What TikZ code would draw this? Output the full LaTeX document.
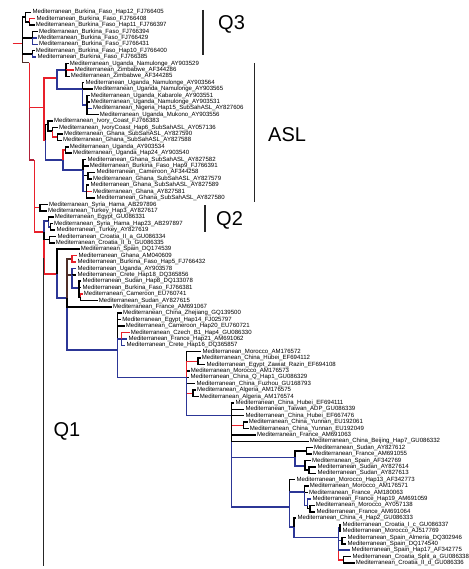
\documentclass[tikz,border=0pt]{standalone}
\usepackage{fontspec}
\setmainfont{Liberation Sans}
\usepackage{tikz}
\usetikzlibrary{positioning}
\definecolor{brRed}{RGB}{232,32,42}
\definecolor{brBlue}{RGB}{44,54,150}
\definecolor{brCrim}{RGB}{176,32,56}
\definecolor{brBrown}{RGB}{78,46,40}
\newcommand{\med}{Mediterranean\_}

\begin{document}
\begin{tikzpicture}[
        x=1pt, y=-1pt,
        branch/.style   = {line width=1.45pt},
        blackbr/.style  = {branch, draw=black},
        redbr/.style    = {branch, draw=brRed},
        bluebr/.style   = {branch, draw=brBlue},
        crimbr/.style   = {branch, draw=brCrim},
        brownbr/.style  = {branch, draw=brBrown},
        tip/.style      = {anchor=west, inner xsep=1.2pt, inner ysep=0pt, text height=4.5pt, text depth=1.3pt, font=\fontsize{6.05}{7}\selectfont},
        cladebar/.style = {line width=1.3pt, draw=black!85},
        cladelab/.style = {anchor=base west, inner sep=0pt, font=\fontsize{20}{24}\selectfont},
    ]
        \useasboundingbox (0,0) rectangle (468,569);

        \node[tip] (t1)  at (31.2,12.3)  {\med Burkina\_Faso\_Hap12\_FJ766405};
        \node[tip] (t2)  at (35.2,18.7)  {\med Burkina\_Faso\_FJ766408};
        \node[tip] (t3)  at (34.5,25.1)  {\med Burkina\_Faso\_Hap11\_FJ766397};
        \node[tip] (t4)  at (37.8,31.5)  {\med Burkina\_Faso\_FJ766394};
        \node[tip] (t5)  at (36.8,37.9)  {\med Burkina\_Faso\_FJ766429};
        \node[tip] (t6)  at (37.8,44.3)  {\med Burkina\_Faso\_FJ766431};
        \node[tip] (t7)  at (34.5,50.7)  {\med Burkina\_Faso\_Hap10\_FJ766400};
        \node[tip] (t8)  at (36.2,57.1)  {\med Burkina\_Faso\_FJ766385};
        \node[tip] (t9)  at (68.5,63.5)  {\med Uganda\_Namulonge\_AY903529};
        \node[tip] (t10) at (73.5,69.9)  {\med Zimbabwe\_AF344286};
        \node[tip] (t11) at (69.5,76.3)  {\med Zimbabwe\_AF344285};
        \node[tip] (t12) at (84.2,82.7)  {\med Uganda\_Namulonge\_AY903564};
        \node[tip] (t13) at (92.8,89.1)  {\med Uganda\_Namulonge\_AY903565};
        \node[tip] (t14) at (89.5,95.5)  {\med Uganda\_Kabarole\_AY903551};
        \node[tip] (t15) at (89.5,101.9) {\med Uganda\_Namulonge\_AY903531};
        \node[tip] (t16) at (91.8,108.3) {\med Nigeria\_Hap15\_SubSahASL\_AY827606};
        \node[tip] (t17) at (98.5,114.7) {\med Uganda\_Mukono\_AY903556};
        \node[tip] (t18) at (52.8,121.2) {\med Ivory\_Coast\_FJ766383};
        \node[tip] (t19) at (57.8,127.6) {\med IvoryCoast\_Hap6\_SubSahASL\_AY057136};
        \node[tip] (t20) at (62.8,134.0) {\med Ghana\_SubSahASL\_AY827590};
        \node[tip] (t21) at (61.8,140.4) {\med Ghana\_SubSahASL\_AY827588};
        \node[tip] (t22) at (68.5,146.8) {\med Uganda\_AY903534};
        \node[tip] (t23) at (71.8,153.2) {\med Uganda\_Hap24\_AY903540};
        \node[tip] (t24) at (86.2,159.6) {\med Ghana\_SubSahASL\_AY827582};
        \node[tip] (t25) at (88.5,166.0) {\med Burkina\_Faso\_Hap9\_FJ766391};
        \node[tip] (t26) at (95.2,172.4) {\med Cameroon\_AF344258};
        \node[tip] (t27) at (91.8,178.8) {\med Ghana\_SubSahASL\_AY827579};
        \node[tip] (t28) at (89.2,185.2) {\med Ghana\_SubSahASL\_AY827589};
        \node[tip] (t29) at (91.8,191.6) {\med Ghana\_AY827581};
        \node[tip] (t30) at (95.2,198.0) {\med Ghana\_SubSahASL\_AY827580};
        \node[tip] (t31) at (47.8,204.4) {\med Syria\_Hama\_AB297896};
        \node[tip] (t32) at (46.8,210.8) {\med Turkey\_Hap3\_AY827617};
        \node[tip] (t33) at (53.5,217.2) {\med Egypt\_GU086331};
        \node[tip] (t34) at (52.8,223.6) {\med Syria\_Hama\_Hap23\_AB297897};
        \node[tip] (t35) at (55.2,230.0) {\med Turkey\_AY827619};
        \node[tip] (t36) at (56.2,236.4) {\med Croatia\_II\_a\_GU086334};
        \node[tip] (t37) at (54.5,242.8) {\med Croatia\_II\_b\_GU086335};
        \node[tip] (t38) at (79.5,249.2) {\med Spain\_DQ174539};
        \node[tip] (t39) at (77.2,255.6) {\med Ghana\_AM040609};
        \node[tip] (t40) at (76.2,262.0) {\med Burkina\_Faso\_Hap5\_FJ766432};
        \node[tip] (t41) at (76.2,268.4) {\med Uganda\_AY903578};
        \node[tip] (t42) at (76.2,274.8) {\med Crete\_Hap18\_DQ365856};
        \node[tip] (t43) at (81.2,281.2) {\med Sudan\_Hap8\_DQ133078};
        \node[tip] (t44) at (81.2,287.6) {\med Burkina\_Faso\_FJ766381};
        \node[tip] (t45) at (82.5,294.0) {\med Cameroon\_EU760741};
        \node[tip] (t46) at (97.5,300.4) {\med Sudan\_AY827615};
        \node[tip] (t47) at (111.8,306.8) {\med France\_AM691067};
        \node[tip] (t48) at (121.8,313.2) {\med China\_Zhejiang\_GQ139500};
        \node[tip] (t49) at (121.0,319.6) {\med Egypt\_Hap14\_FJ025797};
        \node[tip] (t50) at (124.5,326.0) {\med Cameroon\_Hap20\_EU760721};
        \node[tip] (t51) at (129.5,332.5) {\med Czech\_B1\_Hap4\_GU086330};
        \node[tip] (t52) at (127.2,338.9) {\med France\_Hap21\_AM691062};
        \node[tip] (t53) at (125.2,345.3) {\med Crete\_Hap16\_DQ365857};
        \node[tip] (t54) at (201.2,351.7) {\med Morocco\_AM176572};
        \node[tip] (t55) at (200.5,358.1) {\med China\_Hubei\_EF694112};
        \node[tip] (t56) at (205.2,364.5) {\med Egypt\_Zawiat\_Razin\_EF694108};
        \node[tip] (t57) at (189.5,370.9) {\med Morocco\_AM176573};
        \node[tip] (t58) at (189.2,377.3) {\med China\_Q\_Hap1\_GU086329};
        \node[tip] (t59) at (195.2,383.7) {\med China\_Fuzhou\_GU168793};
        \node[tip] (t60) at (195.8,390.1) {\med Algeria\_AM176575};
        \node[tip] (t61) at (198.5,396.5) {\med Algeria\_AM176574};
        \node[tip] (t62) at (234.2,402.9) {\med China\_Hubei\_EF694111};
        \node[tip] (t63) at (244.2,409.3) {\med Taiwan\_ADP\_GU086339};
        \node[tip] (t64) at (244.2,415.7) {\med China\_Hubei\_EF667476};
        \node[tip] (t65) at (247.5,422.1) {\med China\_Yunnan\_EU192061};
        \node[tip] (t66) at (248.5,428.5) {\med China\_Yunnan\_EU192049};
        \node[tip] (t67) at (255.8,434.9) {\med France\_AM691063};
        \node[tip] (t68) at (308.5,441.3) {\med China\_Beijing\_Hap7\_GU086332};
        \node[tip] (t69) at (312.8,447.7) {\med Sudan\_AY827612};
        \node[tip] (t70) at (311.8,454.1) {\med France\_AM691055};
        \node[tip] (t71) at (310.8,460.5) {\med Spain\_AF342769};
        \node[tip] (t72) at (316.2,466.9) {\med Sudan\_AY827614};
        \node[tip] (t73) at (316.2,473.3) {\med Sudan\_AY827613};
        \node[tip] (t74) at (295.2,479.7) {\med Morocco\_Hap13\_AF342773};
        \node[tip] (t75) at (308.5,486.1) {\med Morocco\_AM176571};
        \node[tip] (t76) at (307.8,492.5) {\med France\_AM180063};
        \node[tip] (t77) at (311.2,498.9) {\med France\_Hap19\_AM691059};
        \node[tip] (t78) at (314.5,505.3) {\med Morocco\_AY057138};
        \node[tip] (t79) at (315.2,511.8) {\med France\_AM691064};
        \node[tip] (t80) at (296.2,518.2) {\med China\_4\_Hap2\_GU086333};
        \node[tip] (t81) at (341.2,524.6) {\med Croatia\_I\_c\_GU086337};
        \node[tip] (t82) at (341.2,531.0) {\med Morocco\_AJ517769};
        \node[tip] (t83) at (346.2,537.4) {\med Spain\_Almeria\_DQ302946};
        \node[tip] (t84) at (346.2,543.8) {\med Spain\_DQ174540};
        \node[tip] (t85) at (350.2,550.2) {\med Spain\_Hap17\_AF342775};
        \node[tip] (t86) at (351.2,556.6) {\med Croatia\_Split\_a\_GU086338};
        \node[tip] (t87) at (354.5,563.0) {\med Croatia\_II\_d\_GU086336};

        \coordinate (root) at (12.7,43.3);
        \coordinate (n0)   at (22.7,43.3);
        \coordinate (g1)   at (25.5,17.2);
        \coordinate (g1a)  at (29.5,21.9);
        \coordinate (g2)   at (32.5,37.9);
        \coordinate (g3)   at (32.5,53.9);
        \coordinate (p1)   at (29.3,62.7);
        \coordinate (asl)  at (44,107.5);
        \coordinate (a0)   at (57,78);
        \coordinate (a1)   at (66,69.9);
        \coordinate (a2)   at (82.5,89.1);
        \coordinate (a2b)  at (87,105);
        \coordinate (b7)   at (45.5,140);
        \coordinate (b3)   at (48,124.4);
        \coordinate (b2)   at (52.5,131);
        \coordinate (b1)   at (57.5,137.2);
        \coordinate (b6)   at (63,160);
        \coordinate (b4)   at (65.5,150);
        \coordinate (b5)   at (83,170);
        \coordinate (b5a)  at (88,175.6);
        \coordinate (b5b)  at (86.5,191.6);
        \coordinate (y1)   at (34.3,160);
        \coordinate (q2a)  at (40,207.6);
        \coordinate (m1)   at (44,232);
        \coordinate (q2b)  at (48.5,221);
        \coordinate (q2d)  at (50.5,226.8);
        \coordinate (q2c)  at (49.5,239.6);
        \coordinate (n1)   at (57,274);
        \coordinate (n2)   at (67,298);
        \coordinate (n3)   at (72,258.8);
        \coordinate (n4)   at (72,274.8);
        \coordinate (n4b)  at (79,288);
        \coordinate (n4c)  at (80.5,297.2);
        \coordinate (n5)   at (117.7,350);
        \coordinate (n6)   at (121.5,338.9);
        \coordinate (n7)   at (186.7,377.3);
        \coordinate (n8)   at (198,361.3);
        \coordinate (n9)   at (193,393.3);
        \coordinate (n10)  at (231.7,415.7);
        \coordinate (n10b) at (243.3,425.3);
        \coordinate (n11)  at (295,457.3);
        \coordinate (n11a) at (306.7,450.9);
        \coordinate (n11b) at (305,466);
        \coordinate (n11c) at (308.8,470.1);
        \coordinate (n12)  at (289.3,507);
        \coordinate (n12a) at (304.5,492);
        \coordinate (n12b) at (307.5,505.5);
        \coordinate (n12c) at (310,508.5);
        \coordinate (n13)  at (294,527);
        \coordinate (n14)  at (338.3,537.4);
        \coordinate (n14a) at (340,527.8);
        \coordinate (n14b) at (342,540.6);
        \coordinate (n14d) at (343.5,559.8);

        \draw[redbr] (root) -- (n0);
        \draw[brownbr] (n0) |- (p1);
        \draw[blackbr] (n0) |- (g1);
        \draw[blackbr] (n0) |- (g2);
        \draw[blackbr] (n0) |- (g3);
        \draw[blackbr] (g1) |- (t1);
        \draw[blackbr] (g1) |- (g1a);
        \draw[redbr] (g1a) |- (t2);
        \draw[blackbr] (g1a) |- (t3);
        \draw[bluebr] (g2) |- (t5);
        \draw[blackbr] (g2) |- (t4);
        \draw[bluebr] (g2) |- (t6);
        \draw[blackbr] (g3) |- (t7);
        \draw[bluebr] (g3) |- (t8);

        \draw[crimbr] (p1) |- (y1);
        \draw[redbr] (p1) |- (asl);
        \draw[redbr] (asl) |- (a0);
        \draw[redbr] (asl) |- (b7);
        \draw[bluebr] (a0) |- (a1);
        \draw[bluebr] (a0) |- (a2);
        \draw[blackbr] (a1) |- (t9);
        \draw[redbr] (a1) |- (t10);
        \draw[blackbr] (a1) |- (t11);
        \draw[blackbr] (a2) |- (t12);
        \draw[blackbr] (a2) |- (t13);
        \draw[bluebr] (a2) |- (a2b);
        \draw[blackbr] (a2b) |- (t14);
        \draw[blackbr] (a2b) |- (t15);
        \draw[bluebr] (a2b) |- (t16);
        \draw[blackbr] (a2b) |- (t17);
        \draw[blackbr] (b7) |- (b3);
        \draw[bluebr] (b7) |- (b6);
        \draw[blackbr] (b3) |- (t18);
        \draw[blackbr] (b3) |- (b2);
        \draw[blackbr] (b2) |- (t19);
        \draw[redbr] (b2) |- (b1);
        \draw[blackbr] (b1) |- (t20);
        \draw[blackbr] (b1) |- (t21);
        \draw[redbr] (b6) |- (b4);
        \draw[bluebr] (b6) |- (b5);
        \draw[blackbr] (b4) |- (t22);
        \draw[blackbr] (b4) |- (t23);
        \draw[blackbr] (b5) |- (t24);
        \draw[blackbr] (b5) |- (t25);
        \draw[blackbr] (b5) |- (b5a);
        \draw[bluebr] (b5) |- (b5b);
        \draw[blackbr] (b5a) |- (t26);
        \draw[blackbr] (b5a) |- (t27);
        \draw[blackbr] (b5b) |- (t28);
        \draw[redbr] (b5b) |- (t29);
        \draw[blackbr] (b5b) |- (t30);

        \draw[redbr] (y1) |- (q2a);
        \draw[redbr] (y1) |- (m1);
        \draw[blackbr] (q2a) |- (t31);
        \draw[blackbr] (q2a) |- (t32);
        \draw[redbr] (m1) |- (n1);
        \draw[bluebr] (m1) |- (q2b);
        \draw[blackbr] (m1) |- (q2c);
        \draw[blackbr] (q2b) |- (t33);
        \draw[bluebr] (q2b) |- (q2d);
        \draw[blackbr] (q2d) |- (t34);
        \draw[blackbr] (q2d) |- (t35);
        \draw[blackbr] (q2c) |- (t36);
        \draw[blackbr] (q2c) |- (t37);

        \draw[blackbr] (n1) |- (t38);
        \draw[bluebr] (n1) |- (n2);
        \draw[bluebr] (n2) |- (n5);
        \draw[blackbr] (n2) |- (t47);
        \draw[brownbr] (n2) |- (n3);
        \draw[brownbr] (n2) |- (n4);
        \draw[redbr] (n3) |- (t39);
        \draw[redbr] (n3) |- (t40);
        \draw[bluebr] (n4) |- (t41);
        \draw[blackbr] (n4) |- (t42);
        \draw[bluebr] (n4) |- (n4b);
        \draw[blackbr] (n4b) |- (t43);
        \draw[blackbr] (n4b) |- (t44);
        \draw[blackbr] (n4b) |- (n4c);
        \draw[redbr] (n4c) |- (t45);
        \draw[blackbr] (n4c) |- (t46);

        \draw[blackbr] (n5) |- (t48);
        \draw[blackbr] (n5) |- (t49);
        \draw[blackbr] (n5) |- (t50);
        \draw[bluebr] (n5) |- (n6);
        \draw[bluebr] (n5) |- (n7);
        \draw[redbr] (n6) |- (t51);
        \draw[bluebr] (n6) |- (t52);
        \draw[bluebr] (n6) |- (t53);

        \draw[blackbr] (n7) |- (t54);
        \draw[blackbr] (n7) |- (t57);
        \draw[blackbr] (n7) |- (t58);
        \draw[blackbr] (n7) |- (t59);
        \draw[redbr] (n7) |- (n8);
        \draw[redbr] (n7) |- (n9);
        \draw[bluebr] (n7) |- (n10);
        \draw[blackbr] (n8) |- (t55);
        \draw[blackbr] (n8) |- (t56);
        \draw[blackbr] (n9) |- (t60);
        \draw[blackbr] (n9) |- (t61);

        \draw[bluebr] (n10) |- (n12);
        \draw[bluebr] (n10) |- (n11);
        \draw[redbr] (n10) |- (n10b);
        \draw[blackbr] (n10) |- (t62);
        \draw[blackbr] (n10) |- (t63);
        \draw[blackbr] (n10) |- (t64);
        \draw[blackbr] (n10) |- (t67);
        \draw[blackbr] (n10) |- (t68);
        \draw[blackbr] (n10b) |- (t65);
        \draw[blackbr] (n10b) |- (t66);
        \draw[blackbr] (n11) |- (n11a);
        \draw[bluebr] (n11) |- (n11b);
        \draw[blackbr] (n11a) |- (t69);
        \draw[blackbr] (n11a) |- (t70);
        \draw[blackbr] (n11b) |- (t71);
        \draw[blackbr] (n11b) |- (n11c);
        \draw[blackbr] (n11c) |- (t72);
        \draw[blackbr] (n11c) |- (t73);

        \draw[blackbr] (n12) |- (t74);
        \draw[bluebr] (n12) |- (n13);
        \draw[bluebr] (n12) |- (n12a);
        \draw[blackbr] (n12a) |- (t75);
        \draw[blackbr] (n12a) |- (t76);
        \draw[bluebr] (n12a) |- (n12b);
        \draw[bluebr] (n12b) |- (t77);
        \draw[blackbr] (n12b) |- (n12c);
        \draw[blackbr] (n12c) |- (t78);
        \draw[blackbr] (n12c) |- (t79);
        \draw[blackbr] (n13) |- (t80);
        \draw[bluebr] (n13) |- (n14);
        \draw[redbr] (n14) |- (n14d);
        \draw[bluebr] (n14) |- (t85);
        \draw[bluebr] (n14) |- (n14a);
        \draw[bluebr] (n14) |- (n14b);
        \draw[blackbr] (n14a) |- (t81);
        \draw[blackbr] (n14a) |- (t82);
        \draw[blackbr] (n14b) |- (t83);
        \draw[blackbr] (n14b) |- (t84);
        \draw[blackbr] (n14d) |- (t86);
        \draw[blackbr] (n14d) |- (t87);

        \coordinate (q3top)  at (203,10);
        \coordinate (q3bot)  at (203,55);
        \coordinate (asltop) at (254.7,63);
        \coordinate (aslbot) at (254.7,202);
        \coordinate (q2top)  at (205,205);
        \coordinate (q2bot)  at (205,232);
        \coordinate (q1top)  at (43.3,258);
        \coordinate (q1bot)  at (43.3,566);
        \draw[cladebar] (q3top) -- (q3bot);
        \draw[cladebar] (asltop) -- (aslbot);
        \draw[cladebar] (q2top) -- (q2bot);
        \draw[cladebar] (q1top) -- (q1bot);
        \node[cladelab] (q3lab)  at (218,30)   {Q3};
        \node[cladelab] (asllab) at (268,142)  {ASL};
        \node[cladelab] (q2lab)  at (216,225)  {Q2};
        \node[cladelab] (q1lab)  at (53.3,436) {Q1};
    \end{tikzpicture}
\end{document}
